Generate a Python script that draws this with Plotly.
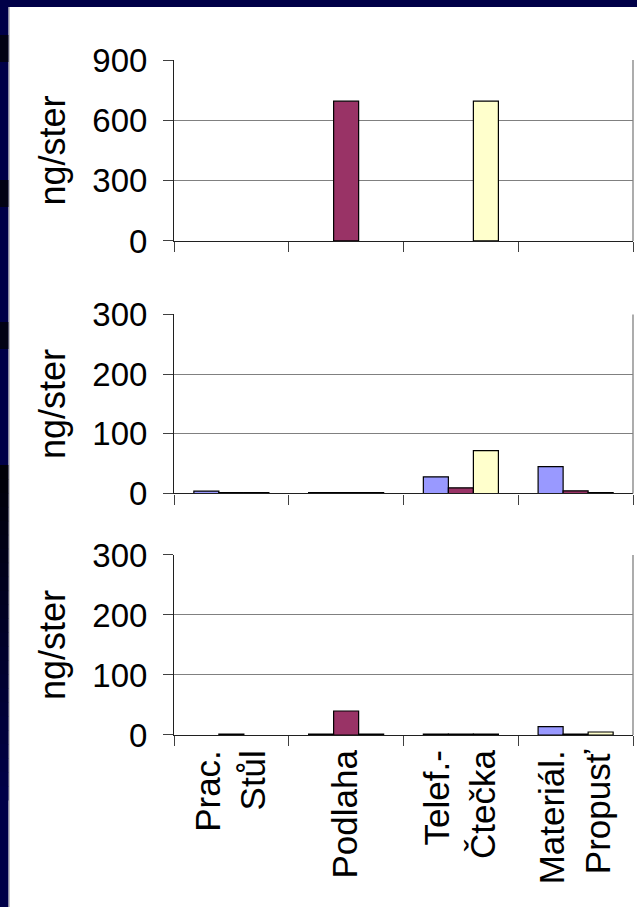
import plotly.graph_objects as go
from plotly.subplots import make_subplots

# ---------------- data ----------------
categories = ["Prac.<br>Stůl", "Podlaha", "Telef.-<br>Čtečka", "Materiál.<br>Propusť"]
series_names = ["Série 1", "Série 2", "Série 3"]
series_colors = ["#9999FF", "#993366", "#FFFFCC"]

top_s1 = [0, 0, 0, 0]
top_s2 = [0, 695, 0, 0]
top_s3 = [0, 0, 695, 0]

mid_s1 = [4, 1.5, 28, 45]
mid_s2 = [1.5, 1.5, 9.5, 4.5]
mid_s3 = [1.5, 1.5, 72, 1.5]

bot_s1 = [0, 1.5, 1.5, 14]
bot_s2 = [1.5, 40, 1.5, 1.5]
bot_s3 = [0, 1.5, 1.5, 5]

y_title = "ng/ster"
top_ticks = [0, 300, 600, 900]
low_ticks = [0, 100, 200, 300]

panels = [
    (top_s1, top_s2, top_s3, [0, 900], top_ticks),
    (mid_s1, mid_s2, mid_s3, [0, 300], low_ticks),
    (bot_s1, bot_s2, bot_s3, [0, 300], low_ticks),
]

# ---------------- figure ----------------
W, H = 637, 907
ML, MR, MT, MB = 174, 4, 60, 172
FONT = "Liberation Sans, Arial, sans-serif"
NAVY = "#000048"

fig = make_subplots(rows=3, cols=1)

domains = [[0.7319, 1.0], [0.3578, 0.6230], [0.0, 0.2667]]

for i, (s1, s2, s3, rng, ticks) in enumerate(panels):
    r = i + 1
    for vals, name, col in zip((s1, s2, s3), series_names, series_colors):
        shown = [v if v else None for v in vals]   # zero values draw no bar
        fig.add_trace(
            go.Bar(x=categories, y=shown, name=name, showlegend=False,
                   marker=dict(color=col, line=dict(color="black", width=1.2))),
            row=r, col=1)
    xa = "xaxis" if r == 1 else f"xaxis{r}"
    ya = "yaxis" if r == 1 else f"yaxis{r}"
    fig.layout[ya].update(
        domain=domains[i], range=rng, tickvals=ticks, ticks="outside",
        ticklen=10, tickcolor="#404040", tickwidth=1,
        showline=True, linecolor="#202020", linewidth=1,
        showgrid=True, gridcolor="#808080", gridwidth=1.3,
        zeroline=False, automargin=False,
        tickfont=dict(family=FONT, size=33, color="black"),
        ticklabelstandoff=9,
        title=dict(text=y_title, font=dict(family=FONT, size=36, color="black"),
                   standoff=15),
    )
    fig.layout[xa].update(
        domain=[0, 1], type="category", tickson="boundaries", ticks="outside",
        ticklen=10, tickcolor="#404040", tickwidth=1,
        showline=True, linecolor="#202020", linewidth=1.3,
        showgrid=False, zeroline=False, automargin=False,
        showticklabels=(r == 3), tickangle=-90,
        tickfont=dict(family=FONT, size=35, color="black"),
        anchor=f"y{'' if r == 1 else r}",
    )
    # right border of plot area
    xr = "x domain" if r == 1 else f"x{r} domain"
    yr = "y domain" if r == 1 else f"y{r} domain"
    fig.add_shape(type="line", xref=xr, yref=yr, x0=1, x1=1, y0=0, y1=1,
                  line=dict(color="#808080", width=1.3))

# ---------------- slide background decoration ----------------
def px_x(X):
    return (X - ML) / (W - ML - MR)

def px_y(Y):
    return (H - MB - Y) / (H - MT - MB)

def rect(x0, y0, x1, y1, color):
    fig.add_shape(type="rect", xref="paper", yref="paper",
                  x0=px_x(x0), x1=px_x(x1), y0=px_y(y0), y1=px_y(y1),
                  fillcolor=color, line=dict(width=0), layer="below")

rect(-2, -2, W + 2, 7, NAVY)
rect(-2, -2, 8.5, H + 2, NAVY)
for y0, y1 in [(35, 62), (180, 207), (322, 349)]:
    rect(-2, y0, 8.5, y1, "#020214")
# gradient from black to navy on lower left strip
steps = 24
for k in range(steps):
    t = k / (steps - 1)
    y0 = 465 + k * (800 - 465) / steps
    y1 = 465 + (k + 1) * (800 - 465) / steps + 0.5
    b = int(8 + t * (72 - 8))
    rect(-2, y0, 8.5, y1, f"rgb(0,0,{b})")
fig.add_shape(type="line", xref="paper", yref="paper",
              x0=px_x(9.3), x1=px_x(9.3), y0=px_y(7), y1=px_y(H),
              line=dict(color="#b8b8b8", width=1), layer="below")

fig.update_layout(
    width=W, height=H, margin=dict(l=ML, r=MR, t=MT, b=MB, autoexpand=False),
    paper_bgcolor="white", plot_bgcolor="white",
    barmode="group", bargap=0.346, bargroupgap=0,
    font=dict(family=FONT, color="black"),
)

fig.write_html("out.html",
               config={"displayModeBar": False},
               post_script="document.body.style.margin='0px';document.body.style.padding='0px';")
